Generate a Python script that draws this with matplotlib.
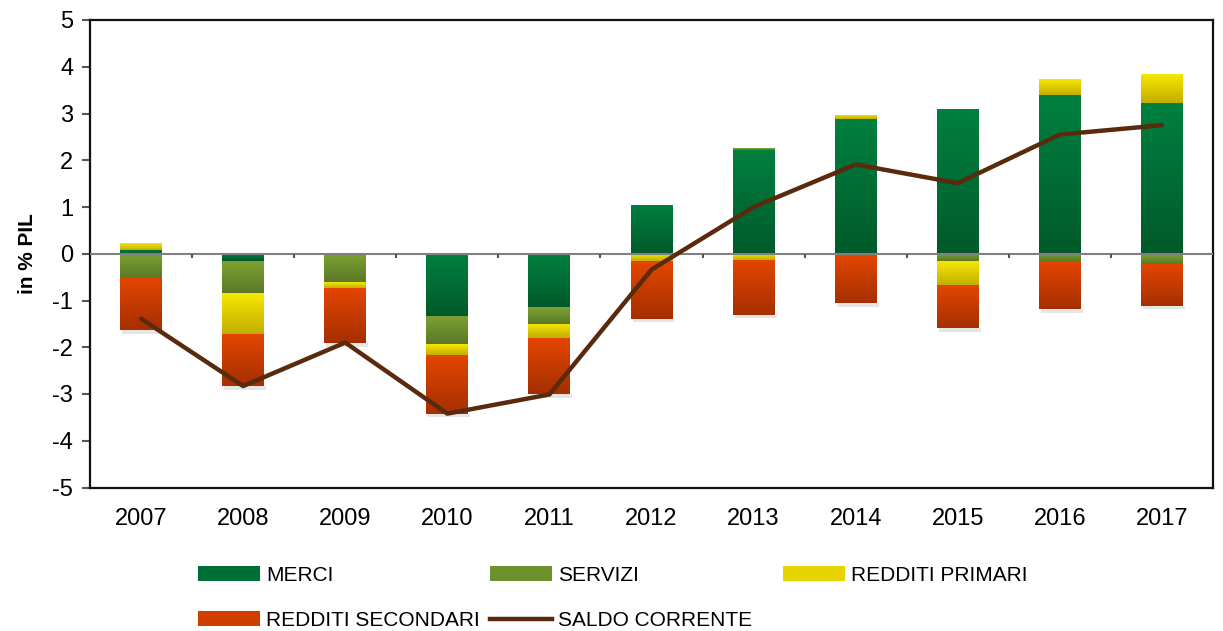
import numpy as np
import matplotlib
matplotlib.use("Agg")
from matplotlib import pyplot as plt
from matplotlib.colors import LinearSegmentedColormap
from matplotlib.patches import Patch
from matplotlib.lines import Line2D

anni = ["2007", "2008", "2009", "2010", "2011", "2012", "2013", "2014", "2015", "2016", "2017"]
merci = [0.09, -0.16, 0.0, -1.34, -1.14, 1.05, 2.22, 2.88, 3.10, 3.40, 3.22]
servizi = [-0.52, -0.68, -0.61, -0.60, -0.36, 0.0, 0.04, -0.05, -0.16, -0.16, -0.21]
primari = [0.13, -0.87, -0.12, -0.22, -0.30, -0.16, -0.13, 0.09, -0.50, 0.34, 0.62]
secondari = [-1.12, -1.12, -1.18, -1.26, -1.21, -1.23, -1.17, -1.01, -0.93, -1.02, -0.90]
saldo = [-1.39, -2.83, -1.90, -3.42, -3.01, -0.34, 1.00, 1.91, 1.51, 2.55, 2.75]

nomi = ["MERCI", "SERVIZI", "REDDITI PRIMARI", "REDDITI SECONDARI"]
# (chiaro in alto, scuro in basso)
colori = [("#00803F", "#005A2A"), ("#7DA232", "#5A7828"), ("#F7E700", "#C2AE00"), ("#E44600", "#A52F00")]

plt.rcParams['font.family'] = ['Liberation Sans', 'DejaVu Sans']
plt.rcParams['axes.unicode_minus'] = False

fig = plt.figure(figsize=(12.23, 6.31), dpi=100)
ax = fig.add_axes([90/1223, 1-487.5/631, 1123/1223, 467.5/631])

x = np.arange(len(anni))
pos = np.zeros(len(anni))
neg = np.zeros(len(anni))
larg = 0.41

for serie, (chiaro, scuro) in zip([merci, servizi, primari, secondari], colori):
    v = np.array(serie)
    base = np.where(v >= 0, pos, neg)
    barre = ax.bar(x, v, larg, bottom=base, color="none", edgecolor="none", zorder=2)
    cmap = LinearSegmentedColormap.from_list("g", [scuro, chiaro])
    grad = np.linspace(0, 1, 128).reshape(-1, 1)
    for b in barre:
        h = b.get_height()
        if abs(h) < 1e-6:
            continue
        x0 = b.get_x()
        y0 = b.get_y()
        im = ax.imshow(grad, cmap=cmap, extent=[x0, x0 + b.get_width(), min(y0, y0 + h), max(y0, y0 + h)],
                       origin="lower", aspect="auto", zorder=2)
        im.set_clip_path(b)
    pos = pos + np.where(v >= 0, v, 0)
    neg = neg + np.where(v < 0, v, 0)

# ombra leggera sotto le barre negative
ax.bar(x + 0.02, np.full(len(anni), -0.08), larg, bottom=neg, color="#999999", alpha=0.25, edgecolor="none", zorder=1)

ax.axhline(0, color="#808080", lw=1.5, zorder=3)
ax.vlines(x[1:] - 0.5, -0.1, 0, color="#555555", lw=1.5, zorder=3)

ax.plot(x, saldo, color="#5A2A0C", lw=3.2, zorder=4, solid_capstyle="round")

ax.set_xlim(-0.5, len(anni) - 0.5)
ax.set_ylim(-5, 5)
ax.set_yticks(range(-5, 6))
ax.set_xticks(x)
ax.set_xticklabels(anni)
ax.tick_params(axis="x", length=0, pad=15, labelsize=17)
ax.tick_params(axis="y", length=6, width=1.5, color="#555555", labelsize=17, pad=6)
for s in ax.spines.values():
    s.set_linewidth(1.6)
    s.set_color("#111111")
ax.set_ylabel("in % PIL", fontsize=15, fontweight="bold")
ax.yaxis.set_label_coords(-0.047, 0.5)

maniglie = [Patch(facecolor="#006F37"), Patch(facecolor="#6E912E"),
            Patch(facecolor="#E6D400"), Patch(facecolor="#D03F00")]
linea = Line2D([0], [0], color="#5A2A0C", lw=3.2)

colonne = [([maniglie[0], maniglie[3]], [nomi[0], nomi[3]], 200),
           ([maniglie[1], linea], [nomi[1], "SALDO CORRENTE"], 492),
           ([maniglie[2]], [nomi[2]], 785)]
for h, l, px in colonne:
    fig.legend(h, l, loc="upper left", bbox_to_anchor=(px/1223 - 0.002, 1 - 566/631), frameon=False,
               handlelength=3.0, handleheight=0.75, handletextpad=0.3, labelspacing=1.25,
               borderaxespad=0, borderpad=0,
               prop={"family": ["Liberation Sans Narrow", "Liberation Sans"], "size": 15})

fig.savefig("out.png", dpi=100)
